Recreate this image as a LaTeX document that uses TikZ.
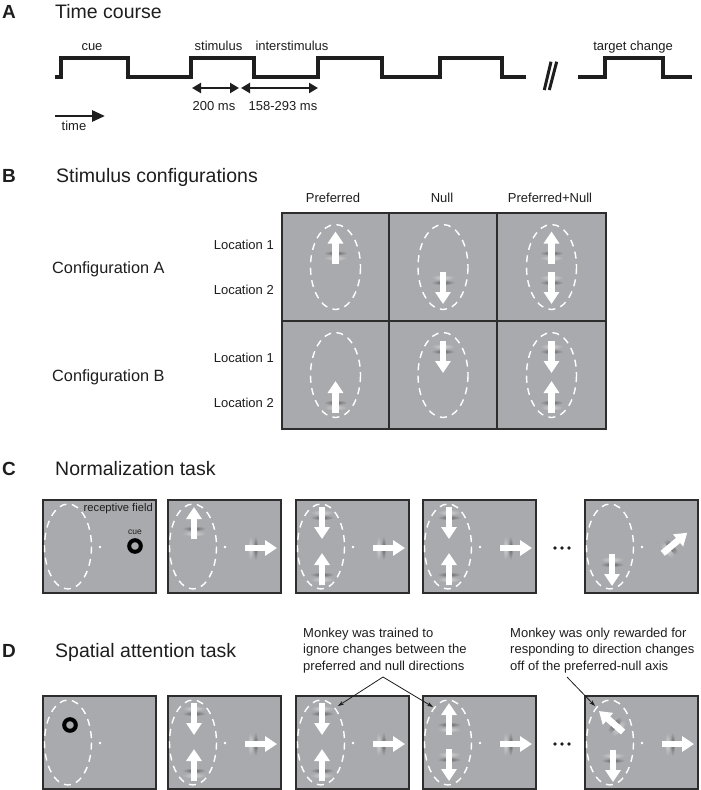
\documentclass[tikz,border=0pt]{standalone}
\usepackage{fontspec}
\setmainfont{Liberation Sans}
\usetikzlibrary{arrows.meta}
\definecolor{bg}{RGB}{169,170,173}
\definecolor{frame}{RGB}{45,45,45}
\definecolor{ink}{RGB}{30,30,30}
\definecolor{gabdark}{RGB}{100,100,103}
\definecolor{gablight}{RGB}{208,208,210}
\newcommand\fs[1]{\fontsize{#1}{#1}\selectfont}
\tikzset{
  heading/.style={anchor=base west,font=\fs{19.5},text=ink,inner sep=0pt},
  letter/.style={anchor=base west,font=\fs{19}\bfseries,text=ink,inner sep=0pt},
  lab/.style={anchor=base,font=\fs{13},text=ink,inner sep=0pt},
  rowlab/.style={anchor=base east,font=\fs{13},text=ink,inner sep=0pt},
  conflab/.style={anchor=base west,font=\fs{16.3},text=ink,inner sep=0pt},
  note/.style={anchor=north west,align=left,font=\fontsize{13}{16.5}\selectfont,text=ink,inner sep=0pt},
  pulse/.style={line width=3.2pt,draw=ink,line join=miter},
  brk/.style={line width=3pt,draw=ink},
  dur/.style={line width=2.4pt,draw=ink,{Triangle[length=9pt,width=10pt]}-{Triangle[length=9pt,width=10pt]}},
  timearr/.style={line width=2.8pt,draw=ink,-{Triangle[length=13pt,width=11pt]}},
  cell/.style={fill=bg,draw=frame,line width=2pt},
  rf/.style={draw=white,line width=1.4pt,dash pattern=on 7pt off 5.5pt},
  stimarr/.style={draw=white,line width=6.5pt,-{Triangle[length=12pt,width=15pt]}},
  ring/.style={draw=black,line width=4pt},
  pointer/.style={draw=ink,line width=0.8pt,-{Stealth[length=6pt,width=4pt]}},
}
\newcommand\stim[3]{%
  \begin{scope}[shift={(#1,#2)},rotate=#3]
    \shade[inner color=gablight,outer color=bg] (-10.5,0) ellipse [x radius=3,y radius=12];
    \shade[inner color=gabdark,outer color=bg] (-5.5,0) ellipse [x radius=2.6,y radius=12];
    \draw[stimarr] (-16,0) -- (16,0);
  \end{scope}}
\newcommand\tpanel[2]{%
  \draw[cell] (#1,#2) rectangle ++(113,93);
  \draw[rf] (#1+25,#2+46.5) ellipse [x radius=23.5,y radius=42.5];
  \fill[white] (#1+57,#2+47) circle [radius=1.3];}
\newcommand\bcell[4]{% x0 y0 x1 y1
  \draw[cell] (#1,#2) rectangle (#3,#4);
  \draw[rf] ({(#1+#3)/2},{(#2+#4)/2}) ellipse [x radius=25,y radius=42.5];}
\begin{document}
\begin{tikzpicture}[x=1pt,y=-1pt]
\useasboundingbox[fill=white] (0,0) rectangle (701,790);

% ---------------- A
\node[letter] (lA) at (2,18.5) {A};
\node[heading] (hA) at (55,18.5) {Time course};
\draw[pulse] (55,77) -- (61,77) -- (61,58) -- (128,58) -- (128,77) -- (191,77) -- (191,58) -- (254,58) -- (254,77) -- (318,77) -- (318,58) -- (382,58) -- (382,77) -- (440,77) -- (440,58) -- (502,58) -- (502,77) -- (526,77);
\draw[pulse] (578,77) -- (605,77) -- (605,58) -- (663,58) -- (663,77) -- (692,77);
\draw[brk] (544.3,90) -- (551,61.7);
\draw[brk] (549.3,90) -- (556.7,61.7);
\node[lab] (cue) at (92,50) {cue};
\node[lab] (stimulus) at (218.5,50) {stimulus};
\node[lab] (inter) at (292,50) {interstimulus};
\node[lab] (target) at (633,50) {target change};
\coordinate (d1a) at (192,88);
\coordinate (d1b) at (239,88);
\coordinate (d2a) at (241,88);
\coordinate (d2b) at (318,88);
\draw[dur] (d1a) -- (d1b);
\draw[dur] (d2a) -- (d2b);
\node[lab] (ms200) at (214,110) {200 ms};
\node[lab] (msisi) at (283,110) {158-293 ms};
\coordinate (ta) at (55,116);
\coordinate (tb) at (105,116);
\draw[timearr] (ta) -- (tb);
\node[lab] (time) at (74,130.5) {time};

% ---------------- B
\node[letter] (lB) at (2,182) {B};
\node[heading] (hB) at (56,182) {Stimulus configurations};
\node[lab] (colP) at (333,202) {Preferred};
\node[lab] (colN) at (442,202) {Null};
\node[lab] (colPN) at (550,202) {Preferred+Null};
\node[conflab] (cfA) at (52,273) {Configuration A};
\node[conflab] (cfB) at (52,381) {Configuration B};
\node[rowlab] (a1) at (274,249.5) {Location 1};
\node[rowlab] (a2) at (274,294) {Location 2};
\node[rowlab] (b1) at (274,362) {Location 1};
\node[rowlab] (b2) at (274,407.5) {Location 2};
\bcell{282}{213}{389}{321}
\bcell{389}{213}{497}{321}
\bcell{497}{213}{606}{321}
\bcell{282}{321}{389}{429}
\bcell{389}{321}{497}{429}
\bcell{497}{321}{606}{429}
\stim{335.5}{247.5}{90}
\stim{443}{288}{-90}
\stim{551.5}{247.5}{90}
\stim{551.5}{288}{-90}
\stim{335.5}{397}{90}
\stim{443}{357}{-90}
\stim{551.5}{357}{-90}
\stim{551.5}{397}{90}

% ---------------- C
\node[letter] (lC) at (2,475) {C};
\node[heading] (hC) at (55,475) {Normalization task};
\tpanel{43}{500}
\draw[ring] (135,546) circle [radius=5.8];
\node[anchor=base,font=\fs{8.5},text=ink,inner sep=0pt] (cuelab) at (135,534.5) {cue};
\node[anchor=base east,font=\fs{11.2},text=ink,inner sep=0pt] (rflab) at (153,511.5) {receptive field};
\tpanel{168}{500}
\stim{194}{523}{90}
\stim{261}{548}{0}
\tpanel{296}{500}
\stim{322}{523}{-90}
\stim{322}{569}{90}
\stim{389}{548}{0}
\tpanel{423}{500}
\stim{449}{523}{-90}
\stim{449}{569}{90}
\stim{516}{548}{0}
\foreach \dx in {555,562,569} \fill[ink] (\dx,548) circle [radius=1.8];
\tpanel{585}{500}
\stim{612}{570}{-90}
\stim{675}{543}{40}

% ---------------- D
\node[letter] (lD) at (2,657) {D};
\node[heading] (hD) at (55,657) {Spatial attention task};
\node[note] (n1) at (303,627.7) {Monkey was trained to\\ignore changes between the\\preferred and null directions};
\node[note] (n2) at (510,627.7) {Monkey was only rewarded for\\responding to direction changes\\off of the preferred-null axis};
\tpanel{43}{696}
\draw[ring] (70,725) circle [radius=5.8];
\tpanel{168}{696}
\stim{194}{719}{-90}
\stim{194}{765}{90}
\stim{261}{744}{0}
\tpanel{296}{696}
\stim{322}{719}{-90}
\stim{322}{765}{90}
\stim{389}{744}{0}
\tpanel{423}{696}
\stim{449}{719}{90}
\stim{449}{765}{-90}
\stim{516}{744}{0}
\foreach \dx in {555,562,569} \fill[ink] (\dx,744) circle [radius=1.8];
\tpanel{585}{696}
\stim{611}{721.5}{139}
\stim{613}{766}{-90}
\stim{678}{744}{0}
\coordinate (ap1) at (383,677);
\coordinate (t1a) at (338,706);
\coordinate (t1b) at (433,707);
\coordinate (ap2) at (567,677);
\coordinate (t2) at (595,706);
\draw[pointer] (ap1) -- (t1a);
\draw[pointer] (ap1) -- (t1b);
\draw[pointer] (ap2) -- (t2);
\end{tikzpicture}
\end{document}
